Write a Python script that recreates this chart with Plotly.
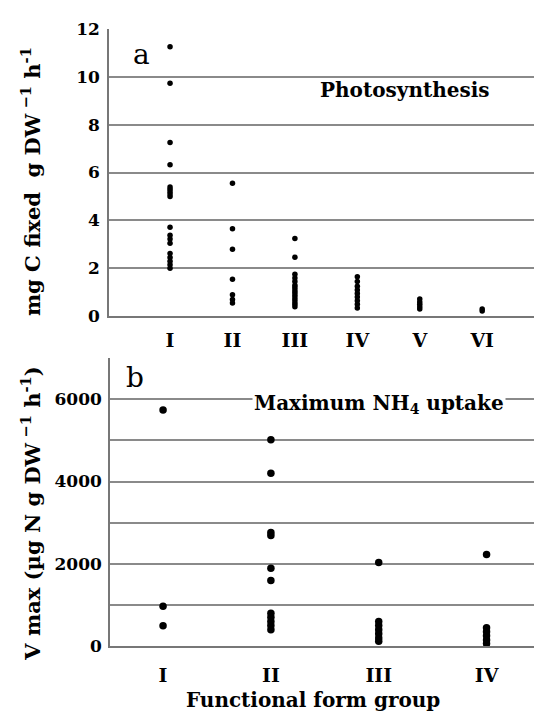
import plotly.graph_objects as go

# Panel a: photosynthesis (mg C fixed g DW-1 h-1) by functional form group
groups_a = ["I", "II", "III", "IV", "V", "VI"]
photo_I = [11.25, 9.72, 7.25, 6.32, 5.4, 5.3, 5.2, 5.1, 5.0, 3.72, 3.38, 3.22, 3.05, 2.62, 2.45, 2.3, 2.15, 2.0]
photo_II = [5.55, 3.65, 2.8, 1.55, 0.9, 0.7, 0.55]
photo_III = [3.25, 2.46, 1.75, 1.6, 1.45, 1.3, 1.2, 1.1, 1.0, 0.9, 0.8, 0.7, 0.6, 0.5, 0.4]
photo_IV = [1.65, 1.45, 1.25, 1.1, 0.95, 0.8, 0.65, 0.5, 0.35]
photo_V = [0.72, 0.6, 0.5, 0.4, 0.3]
photo_VI = [0.3, 0.22]
photo = [photo_I, photo_II, photo_III, photo_IV, photo_V, photo_VI]

# Panel b: maximum NH4 uptake (ug N g DW-1 h-1)
groups_b = ["I", "II", "III", "IV"]
nh4_I = [5735, 969, 496]
nh4_II = [5012, 4199, 2760, 2690, 1891, 1598, 800, 700, 600, 500, 400]
nh4_III = [2033, 600, 500, 400, 300, 200, 120]
nh4_IV = [2229, 450, 350, 250, 150, 60]
nh4 = [nh4_I, nh4_II, nh4_III, nh4_IV]

yticks_a = [0, 2, 4, 6, 8, 10, 12]
yticks_b = [0, 2000, 4000, 6000]

SERIF = "DejaVu Serif, Liberation Serif, serif"
GRID = "#8a8a8a"

fig = go.Figure()
for i, vals in enumerate(photo):
    fig.add_trace(go.Scatter(x=[i + 1] * len(vals), y=vals, mode="markers",
                             marker=dict(color="black", size=5.5),
                             xaxis="x", yaxis="y", showlegend=False))
for i, vals in enumerate(nh4):
    fig.add_trace(go.Scatter(x=[i + 1] * len(vals), y=vals, mode="markers",
                             marker=dict(color="black", size=7.5),
                             xaxis="x2", yaxis="y2", showlegend=False))

ytickfont = dict(family=SERIF, size=17, color="black")
xtickfont = dict(family=SERIF, size=19, color="black")

fig.update_layout(
    width=534, height=722,
    margin=dict(l=0, r=0, t=0, b=0),
    paper_bgcolor="white", plot_bgcolor="white",
    xaxis=dict(domain=[0.2041, 1.0], range=[0.022, 6.83],
               tickvals=list(range(1, 7)), ticktext=[f"<b>{g}</b>" for g in groups_a],
               tickfont=xtickfont, showgrid=False, zeroline=False,
               showline=True, linecolor="#777", linewidth=1.5,
               ticks="", ticklabelstandoff=6, anchor="y"),
    yaxis=dict(domain=[0.5637, 0.9733], range=[0, 12],
               tickvals=yticks_a, ticktext=[f"<b>{v}</b>" for v in yticks_a],
               tickfont=ytickfont, showgrid=True, gridcolor=GRID, gridwidth=1.5,
               zeroline=False, showline=True, linecolor="#777", linewidth=1.5,
               ticks="", ticklabelstandoff=4, anchor="x"),
    xaxis2=dict(domain=[0.206, 1.0], range=[0.508, 4.44],
                tickvals=list(range(1, 5)), ticktext=[f"<b>{g}</b>" for g in groups_b],
                tickfont=xtickfont, showgrid=False, zeroline=False,
                showline=True, linecolor="#777", linewidth=1.5,
                ticks="", ticklabelstandoff=11, anchor="y2"),
    yaxis2=dict(domain=[0.0938, 0.5042], range=[0, 7000],
                tickvals=yticks_b, ticktext=[f"<b>{v}</b>" for v in yticks_b],
                tickfont=ytickfont, showgrid=True, gridcolor=GRID, gridwidth=1.5,
                minor=dict(dtick=1000, showgrid=True, gridcolor=GRID, gridwidth=1.5),
                zeroline=False, showline=True, linecolor="#777", linewidth=1.5,
                ticks="", ticklabelstandoff=3, anchor="x2"),
)

def ann(text, x, y, size, angle=0, bg=None, family=SERIF):
    d = dict(text=text, x=x / 534, y=1 - y / 722, xref="paper", yref="paper",
             showarrow=False, xanchor="center", yanchor="middle", textangle=angle,
             font=dict(family=family, size=size, color="black"))
    if bg:
        d["bgcolor"] = bg
    fig.add_annotation(**d)

ann("a", 141, 46, 28)
ann("b", 135, 378, 28)
ann("<b>Photosynthesis</b>", 405, 82, 20)
ann("<b>Maximum NH<sub>4</sub> uptake</b>", 379, 405, 20, bg="white")
ann("<b>mg C fixed  g DW<sup> −1</sup> h<sup>-1</sup></b>", 31, 177, 21, angle=-90)
ann("<b>V max (µg N g DW<sup> −1</sup> h<sup>-1</sup>)</b>", 31, 518, 21, angle=-90)
ann("<b>Functional form group</b>", 313, 710, 20)

fig.write_html("out.html")
